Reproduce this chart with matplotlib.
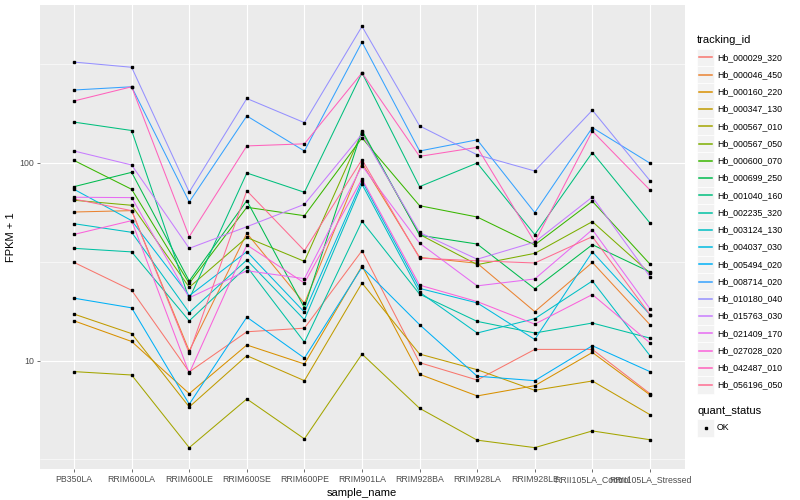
import matplotlib.pyplot as plt
from matplotlib.patches import Rectangle
from matplotlib.lines import Line2D

plt.rcParams['font.family'] = ['Liberation Sans', 'DejaVu Sans']

samples = ["PB350LA", "RRIM600LA", "RRIM600LE", "RRIM600SE", "RRIM600PE", "RRIM901LA",
           "RRIM928BA", "RRIM928LA", "RRIM928LE", "RRII105LA_Control", "RRII105LA_Stressed"]

# FPKM + 1 per sample
hb_000029_320 = [31.4, 22.7, 8.77, 14.0, 14.6, 36.0, 9.77, 7.98, 11.4, 11.4, 6.81]
hb_000046_450 = [56.5, 57.4, 11.2, 44.1, 19.5, 99.8, 33.3, 31.1, 17.7, 31.4, 15.2]
hb_000160_220 = [15.9, 12.5, 6.81, 12.0, 9.62, 30.1, 8.53, 6.63, 7.47, 11.0, 6.71]
hb_000347_130 = [17.2, 13.7, 5.83, 10.6, 7.92, 24.7, 10.8, 9.00, 7.08, 7.89, 5.33]
hb_000567_010 = [8.80, 8.46, 3.63, 6.40, 4.02, 10.8, 5.74, 3.96, 3.63, 4.41, 3.98]
hb_000567_050 = [64.8, 61.1, 23.5, 42.0, 31.8, 143, 43.5, 30.6, 34.9, 50.5, 27.7]
hb_000600_070 = [103, 73.6, 24.6, 59.7, 54.1, 134, 60.8, 53.3, 38.5, 64.0, 30.8]
hb_000699_250 = [75.9, 89.7, 25.3, 64.5, 18.5, 146, 43.1, 38.9, 23.1, 38.6, 28.1]
hb_001040_160 = [161, 146, 20.5, 89.0, 71.1, 286, 75.9, 100, 43.4, 113, 49.7]
hb_002235_320 = [37.0, 35.5, 15.9, 29.9, 12.4, 50.7, 21.7, 15.8, 13.8, 15.5, 13.0]
hb_003124_130 = [49.3, 44.6, 17.5, 32.3, 16.1, 78.0, 22.2, 13.8, 16.3, 25.3, 10.6]
hb_004037_030 = [73.6, 51.1, 21.3, 35.6, 17.6, 81.1, 23.2, 19.6, 12.8, 35.5, 17.1]
hb_005494_020 = [20.7, 18.5, 6.02, 16.6, 10.3, 29.7, 15.2, 8.34, 7.92, 11.9, 8.80]
hb_008714_020 = [234, 243, 63.5, 173, 115, 409, 115, 131, 56.1, 151, 99.8]
hb_010180_040 = [324, 305, 71.3, 212, 160, 491, 154, 110, 91.1, 185, 81.4]
hb_015763_030 = [115, 97.7, 37.0, 47.6, 61.8, 140, 44.5, 32.6, 39.8, 67.3, 26.6]
hb_021409_170 = [67.1, 66.8, 20.8, 28.5, 26.0, 96.9, 39.3, 23.9, 25.9, 46.0, 18.3]
hb_027028_020 = [43.5, 51.1, 8.63, 38.5, 24.7, 83.0, 24.1, 19.9, 15.3, 21.6, 12.3]
hb_042487_010 = [206, 243, 42.4, 122, 125, 286, 108, 120, 39.8, 145, 73.0]
hb_056196_050 = [65.7, 57.4, 10.9, 72.4, 36.0, 104, 33.0, 32.0, 31.2, 42.4, 17.1]

tracking_ids = ["Hb_000029_320", "Hb_000046_450", "Hb_000160_220", "Hb_000347_130",
                "Hb_000567_010", "Hb_000567_050", "Hb_000600_070", "Hb_000699_250",
                "Hb_001040_160", "Hb_002235_320", "Hb_003124_130", "Hb_004037_030",
                "Hb_005494_020", "Hb_008714_020", "Hb_010180_040", "Hb_015763_030",
                "Hb_021409_170", "Hb_027028_020", "Hb_042487_010", "Hb_056196_050"]
series = [hb_000029_320, hb_000046_450, hb_000160_220, hb_000347_130, hb_000567_010,
          hb_000567_050, hb_000600_070, hb_000699_250, hb_001040_160, hb_002235_320,
          hb_003124_130, hb_004037_030, hb_005494_020, hb_008714_020, hb_010180_040,
          hb_015763_030, hb_021409_170, hb_027028_020, hb_042487_010, hb_056196_050]

# ggplot default hue palette, 20 levels
colors = ["#F8766D", "#EA8331", "#D89000", "#C09B00", "#A3A500", "#7CAE00", "#39B600",
          "#00BB4E", "#00BF7D", "#00C1A3", "#00BFC4", "#00BAE0", "#00B0F6", "#35A2FF",
          "#9590FF", "#C77CFF", "#E76BF3", "#FA62DB", "#FF62BC", "#FF6C91"]

W, H = 800, 500
fig = plt.figure(figsize=(8, 5), dpi=100)
ax = fig.add_axes([39.5 / W, 1 - 469 / H, (684.5 - 39.5) / W, (469 - 5) / H])
ax.set_facecolor("#EBEBEB")
for s in ax.spines.values():
    s.set_visible(False)

x = list(range(len(samples)))
for vals, c in zip(series, colors):
    ax.plot(x, vals, color=c, lw=0.75, zorder=3)
for vals in series:
    ax.plot(x, vals, ls="none", marker="s", ms=2.0, color="black", zorder=4)

ax.set_yscale("log")
ax.set_ylim(2.83, 630)
ax.set_xlim(-0.6, 10.6)
ax.set_yticks([10, 100])
ax.set_yticklabels(["10", "100"])
ax.set_yticks([10 ** 0.5, 10 ** 1.5, 10 ** 2.5], minor=True)
ax.yaxis.set_minor_formatter(plt.NullFormatter())
ax.set_xticks(x)
ax.set_xticklabels(samples)
ax.tick_params(axis="both", which="major", length=2.2, width=0.5, color="#333333",
               labelsize=6.3, labelcolor="#4D4D4D", pad=2)
ax.tick_params(axis="y", which="minor", length=0)
ax.grid(True, which="major", color="white", lw=0.8, zorder=0)
ax.grid(True, which="minor", axis="y", color="white", lw=0.4, zorder=0)
ax.set_axisbelow(True)
ax.set_xlabel("sample_name", fontsize=8, labelpad=3)
ax.set_ylabel("FPKM + 1", fontsize=8, labelpad=2)


def fx(px):
    return px / W


def fy(py):
    return 1 - py / H


# legend: tracking_id
fig.text(fx(697), fy(40), "tracking_id", fontsize=8, va="center", ha="left")
for i, (tid, c) in enumerate(zip(tracking_ids, colors)):
    yc = 57.3 + 17.25 * i
    fig.add_artist(Rectangle((fx(697), fy(yc + 8.6)), 17 / W, 17.2 / H,
                             facecolor="#F2F2F2", edgecolor="white", lw=0.5,
                             transform=fig.transFigure, zorder=1))
    fig.add_artist(Line2D([fx(698.7), fx(712.3)], [fy(yc), fy(yc)], color=c, lw=1.1,
                          transform=fig.transFigure, zorder=3))
    fig.text(fx(717), fy(yc), tid, fontsize=6.3, va="center", ha="left")

# legend: quant_status
fig.text(fx(697), fy(411), "quant_status", fontsize=8, va="center", ha="left")
fig.add_artist(Rectangle((fx(697), fy(428 + 8.6)), 17 / W, 17.2 / H,
                         facecolor="#F2F2F2", edgecolor="white", lw=0.5,
                         transform=fig.transFigure, zorder=1))
fig.add_artist(Line2D([fx(705.5)], [fy(428)], ls="none", marker="s", ms=2.0, color="black",
                      transform=fig.transFigure, zorder=3))
fig.text(fx(717), fy(428), "OK", fontsize=6.3, va="center", ha="left")

fig.savefig("out.png", dpi=100)
